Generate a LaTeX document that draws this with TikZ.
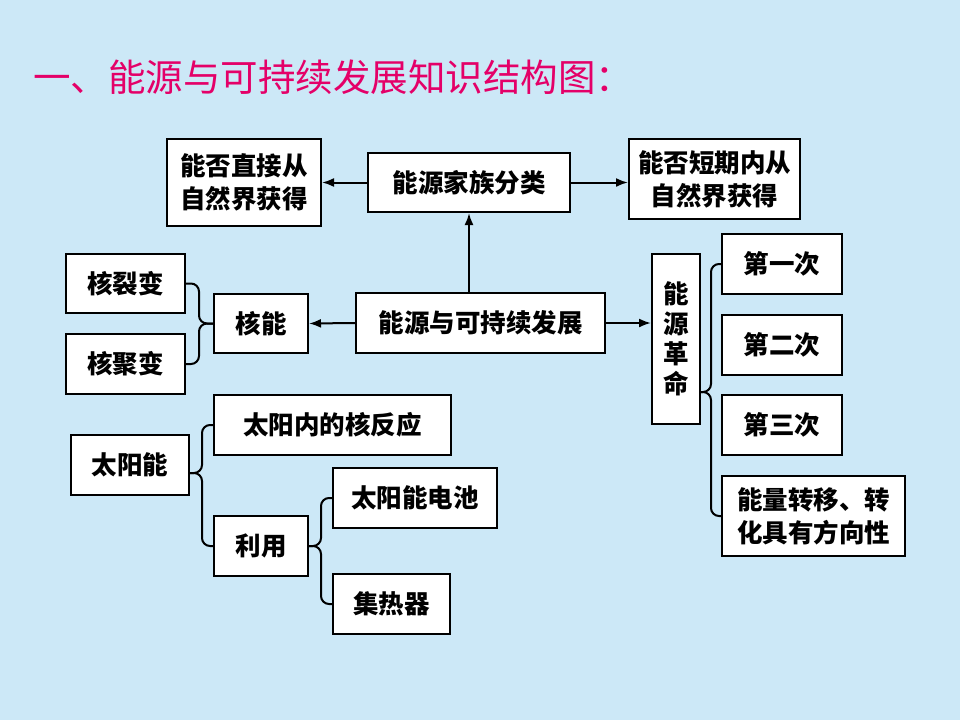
\documentclass[tikz,border=0pt]{standalone}
\usepackage{fontspec}
\setmainfont{Noto Sans CJK SC}
\usetikzlibrary{positioning,arrows.meta}
\definecolor{bgblue}{RGB}{204,232,247}
\definecolor{titlered}{RGB}{228,0,104}

\tikzset{
  box/.style={draw, fill=white, line width=2pt, inner sep=0pt, align=center, font=\fontsize{25.5}{33}\selectfont\bfseries},
  arr/.style={-{Latex[length=12pt,width=9pt]}, line width=2pt},
  brace/.style={line width=2pt, rounded corners=8pt}
}

\begin{document}
\begin{tikzpicture}[x=1pt, y=-1pt, node distance=80.5pt]
    \fill[bgblue] (0,0) rectangle (960,720);
    \useasboundingbox (0,0) rectangle (960,720);

    % Title
    \node (title) [anchor=west, text=titlered, inner sep=0pt, font=\fontsize{37.5}{40}\selectfont] at (33,77) {一、能源与可持续发展知识结构图：};

    % Classification
    \node (fazhan) [box, minimum width=249pt, minimum height=60pt] at (480.5,323) {能源与可持续发展};
    \node (jiazu) [box, minimum width=202pt, minimum height=59pt] at (469,182.5) {能源家族分类};
    \node (zhijie) [box, minimum width=154pt, minimum height=87pt] at (244,182.5) {能否直接从\\自然界获得};
    \node (duanqi) [box, minimum width=171pt, minimum height=80pt] at (714.5,179) {能否短期内从\\自然界获得};

    % Nuclear energy
    \node (he) [box, minimum width=94pt, minimum height=59pt] at (261,323.5) {核能};
    \node (lie) [box, minimum width=119pt, minimum height=59pt] at (125.5,283.5) {核裂变};
    \node (ju) [below of=lie, box, minimum width=119pt, minimum height=60pt] {核聚变};

    % Energy revolution
    \node (geming) [box, minimum width=48pt, minimum height=170pt, font=\fontsize{25.5}{30}\selectfont\bfseries] at (676,339) {能\\源\\革\\命};
    \node (di1) [box, minimum width=120pt, minimum height=60pt] at (782,264) {第一次};
    \node (di2) [below of=di1, box, minimum width=120pt, minimum height=60pt] {第二次};
    \node (di3) [below of=di2, box, minimum width=120pt, minimum height=60pt] {第三次};
    \node (fangxiang) [box, minimum width=183pt, minimum height=80pt] at (813.5,516) {能量转移、转\\化具有方向性};

    % Solar energy
    \node (taiyang) [box, minimum width=118pt, minimum height=60pt] at (130,465) {太阳能};
    \node (fanying) [box, minimum width=237pt, minimum height=60pt] at (332.5,425) {太阳内的核反应};
    \node (liyong) [box, minimum width=94pt, minimum height=60pt] at (261,546) {利用};
    \node (dianchi) [box, minimum width=164pt, minimum height=60pt] at (415,498) {太阳能电池};
    \node (jire) [box, minimum width=117pt, minimum height=60pt] at (391.5,604) {集热器};

    % Arrows
    \draw[arr] (fazhan.north -| jiazu.south) -- (jiazu.south);
    \draw[arr] (jiazu.west) -- (zhijie.east);
    \draw[arr] (jiazu.east) -- (jiazu.east -| duanqi.west);
    \draw[arr] (fazhan.west) -- (he.east);
    \draw[arr] (fazhan.east) -- (fazhan.east -| geming.west);

    % Braces
    \draw[brace] (lie.east) -| ([xshift=-14pt]he.west) -- (he.west);
    \draw[brace] (ju.east) -| ([xshift=-14pt]he.west) -- (he.west);

    \coordinate (gm) at ([yshift=-53pt]geming.east);
    \draw[brace] (gm) -- ([xshift=10pt]gm) |- (di1.west);
    \draw[brace] (gm) -- ([xshift=10pt]gm) |- (fangxiang.west);

    \coordinate (ty) at ([yshift=-8pt]taiyang.east);
    \draw[brace] (ty) -- ([xshift=12pt]ty) |- (fanying.west);
    \draw[brace] (ty) -- ([xshift=12pt]ty) |- (liyong.west);

    \draw[brace] (liyong.east) -- ([xshift=12pt]liyong.east) |- (dianchi.west);
    \draw[brace] (liyong.east) -- ([xshift=12pt]liyong.east) |- (jire.west);
\end{tikzpicture}
\end{document}
